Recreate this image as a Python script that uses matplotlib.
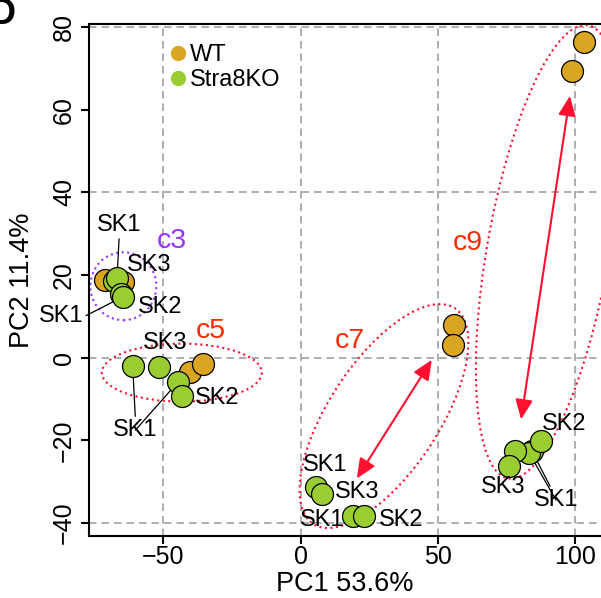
import matplotlib
matplotlib.use("Agg")
import matplotlib.pyplot as plt
from matplotlib.patches import Ellipse, FancyArrowPatch
from matplotlib.transforms import ScaledTranslation
from matplotlib.lines import Line2D

plt.rcParams['font.family'] = ['Liberation Sans', 'DejaVu Sans']

# ---------------- data ----------------
wt_x = [-71.2, -64.6, -40.3, -35.7, 55.7, 55.3, 103.1, 98.8]
wt_y = [18.8, 18.4, -3.4, -1.5, 7.9, 3.2, 76.4, 69.4]

ko_x = [-67.9, -66.9, -65.4, -64.6,
        -61.2, -51.5, -44.6, -43.3,
        5.6, 7.6, 19.1, 23.0,
        84.2, 83.2, 78.1, 87.4, 75.9]
ko_y = [18.6, 19.3, 15.4, 14.8,
        -2.0, -2.2, -5.8, -9.3,
        -31.2, -33.0, -38.3, -38.3,
        -22.6, -23.1, -22.6, -20.2, -26.2]

# sample labels: (text, label x, label y, list of target point indices in ko arrays, relpos)
sample_labels = [
    ("SK1", -66.1, 32.1, [1], (0.5, 0.0)),
    ("SK3", -55.3, 22.4, [], None),
    ("SK2", -51.2, 12.2, [], None),
    ("SK1", -87.3, 10.1, [3], (1.0, 0.45)),
    ("SK3", -49.4, 3.5, [], None),
    ("SK2", -30.4, -9.8, [], None),
    ("SK1", -60.2, -17.5, [4, 6], (0.5, 1.0)),
    ("SK1", 8.8, -25.9, [], None),
    ("SK3", 20.5, -32.4, [], None),
    ("SK1", 7.7, -39.3, [], None),
    ("SK2", 36.4, -39.3, [], None),
    ("SK2", 95.8, -15.9, [], None),
    ("SK3", 73.5, -31.2, [], None),
    ("SK1", 92.9, -34.4, [12, 13], (0.4, 1.0)),
]

# cluster labels
clusters = ["c3", "c5", "c7", "c9"]
cluster_x = [-47.1, -32.7, 17.7, 60.7]
cluster_y = [28.3, 6.5, 4.1, 27.7]
cluster_colors = ["#9933FF", "#FF2A00", "#FF2A00", "#FF2A00"]

# ellipse centres (data) and sizes (pixels) / angles
ell_x = [-64.6, -43.3, 30.3, 90.0]
ell_y = [17.3, -3.6, -14.1, 25.6]
ell_w_px = [66, 160, 258, 460]
ell_h_px = [68, 58, 110, 122]
ell_ang = [0, 0, 56.7, 80]
ell_colors = ["#9933FF", "#FF1030", "#FF1030", "#FF1030"]

# double-headed arrows (data endpoints)
arrow_x0 = [20.4, 80.2]
arrow_y0 = [-29.2, -14.9]
arrow_x1 = [47.7, 98.0]
arrow_y1 = [-0.5, 63.3]

xticks = [-50, 0, 50, 100]
yticks = [-40, -20, 0, 20, 40, 60, 80]
grid_x = [-50, 0, 50, 100]
grid_y = [-40, 0, 40, 80]

WT_COL = "#DAA520"
KO_COL = "#9ACD32"

# ---------------- figure ----------------
W, H = 601, 598
fig = plt.figure(figsize=(W / 100, H / 100), dpi=100)
ax = fig.add_axes([89 / W, (H - 536) / H, (601 - 89) / W, (536 - 24) / H])
ax.set_xlim(-77.1, 109.3)
ax.set_ylim(-43.1, 80.7)

for gx in grid_x:
    ax.axvline(gx, color="#A0A0A0", lw=1.2, ls=(0, (4.5, 3)), zorder=0)
for gy in grid_y:
    ax.axhline(gy, color="#A0A0A0", lw=1.2, ls=(0, (4.5, 3)), zorder=0)

# ellipses
for cx, cy, w, h, a, c in zip(ell_x, ell_y, ell_w_px, ell_h_px, ell_ang, ell_colors):
    tr = fig.dpi_scale_trans + ScaledTranslation(cx, cy, ax.transData)
    e = Ellipse((0, 0), w / 100, h / 100, angle=a, transform=tr,
                fill=False, edgecolor=c, lw=1.5, ls=":", zorder=1)
    ax.add_patch(e)

# arrows
for x0, y0, x1, y1 in zip(arrow_x0, arrow_y0, arrow_x1, arrow_y1):
    ar = FancyArrowPatch((x0, y0), (x1, y1),
                         arrowstyle="<|-|>,head_length=0.75,head_width=0.33",
                         mutation_scale=16, color="#FF1030", lw=1.5,
                         shrinkA=0, shrinkB=0, zorder=2)
    ax.add_patch(ar)

LBL_FS = 17
# leader lines + sample labels
for txt, lx, ly, idxs, rp in sample_labels:
    if idxs:
        for k, i in enumerate(idxs):
            ax.annotate(txt if k == 0 else "", xy=(ko_x[i], ko_y[i]), xytext=(lx, ly),
                        textcoords="data", ha="center", va="center", fontsize=LBL_FS,
                        annotation_clip=False, zorder=2.5,
                        arrowprops=dict(arrowstyle="-", lw=0.9, color="black",
                                        shrinkA=0, shrinkB=0, relpos=rp))
    else:
        ax.text(lx, ly, txt, ha="center", va="center", fontsize=LBL_FS, zorder=5,
                clip_on=False)

# points
ax.scatter(wt_x, wt_y, s=250, c=WT_COL, edgecolors="black", linewidths=0.9, zorder=3)
ax.scatter(ko_x, ko_y, s=250, c=KO_COL, edgecolors="black", linewidths=0.9, zorder=4)

# cluster labels
for t, x, y, c in zip(clusters, cluster_x, cluster_y, cluster_colors):
    ax.text(x, y, t, color=c, fontsize=20.5, ha="center", va="center", zorder=5)

# legend
handles = [Line2D([], [], marker="o", ls="", markerfacecolor=WT_COL, markeredgecolor=WT_COL, markersize=10),
           Line2D([], [], marker="o", ls="", markerfacecolor=KO_COL, markeredgecolor=KO_COL, markersize=10)]
ax.legend(handles, ["WT", "Stra8KO"], loc="upper left", bbox_to_anchor=(0.158, 0.96),
          frameon=False, fontsize=17, handlelength=0.7, handletextpad=0.16,
          borderpad=0, borderaxespad=0, labelspacing=0.1)

# axes styling
ax.spines["right"].set_visible(False)
for s in ["left", "bottom", "top"]:
    ax.spines[s].set_linewidth(1.5)
ax.set_xticks(xticks)
ax.set_yticks(yticks)
ax.set_xticklabels([str(v).replace("-", "\u2212") for v in xticks])
ax.set_yticklabels([str(v).replace("-", "\u2212") for v in yticks])
ax.tick_params(axis="both", direction="out", length=5.8, width=1.5, labelsize=18)
ax.tick_params(axis="x", pad=1)
ax.tick_params(axis="y", pad=3.5, labelrotation=90)
for lab in ax.get_yticklabels():
    lab.set_va("center")

ax.set_xlabel("PC1 53.6%", fontsize=19.5, labelpad=1)
ax.set_ylabel("PC2 11.4%", fontsize=19.5, labelpad=12)

fig.text(16 / W, 1 - 24 / H, "D", fontsize=26, fontweight="bold", ha="right", va="baseline")

fig.savefig("out.png", dpi=100)
